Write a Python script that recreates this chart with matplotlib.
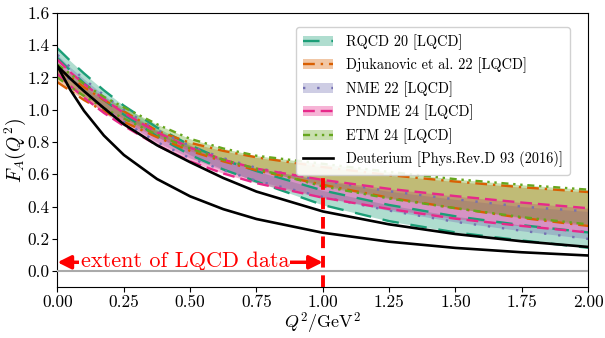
import matplotlib
matplotlib.use("Agg")
import matplotlib.pyplot as plt
from matplotlib.patches import Patch
from matplotlib.lines import Line2D

plt.rcParams['font.family'] = 'serif'
plt.rcParams['font.serif'] = ['cmr10']
plt.rcParams['mathtext.fontset'] = 'cm'
plt.rcParams['axes.formatter.use_mathtext'] = True

q2 = [0, 0.05, 0.1, 0.175, 0.25, 0.375, 0.5, 0.625, 0.75, 1.0, 1.25, 1.5, 1.75, 2.0]

rqcd_hi = [1.38, 1.30, 1.225, 1.12, 1.025, 0.89, 0.78, 0.69, 0.62, 0.50, 0.41, 0.34, 0.285, 0.24]
rqcd_lo = [1.32, 1.24, 1.165, 1.06, 0.97, 0.835, 0.72, 0.63, 0.555, 0.41, 0.31, 0.24, 0.19, 0.145]

djuk_hi = [1.26, 1.20, 1.14, 1.06, 0.99, 0.87, 0.795, 0.745, 0.705, 0.645, 0.595, 0.555, 0.52, 0.49]
djuk_lo = [1.17, 1.115, 1.06, 0.99, 0.925, 0.83, 0.745, 0.68, 0.625, 0.535, 0.455, 0.39, 0.33, 0.28]

nme_hi = [1.34, 1.26, 1.19, 1.09, 1.00, 0.875, 0.775, 0.70, 0.64, 0.56, 0.495, 0.445, 0.40, 0.37]
nme_lo = [1.26, 1.18, 1.11, 1.01, 0.925, 0.80, 0.70, 0.625, 0.56, 0.46, 0.375, 0.305, 0.25, 0.20]

pndme_hi = [1.31, 1.23, 1.16, 1.065, 0.98, 0.86, 0.765, 0.69, 0.635, 0.565, 0.51, 0.465, 0.425, 0.39]
pndme_lo = [1.22, 1.145, 1.075, 0.98, 0.90, 0.78, 0.68, 0.605, 0.545, 0.455, 0.385, 0.325, 0.28, 0.24]

etm_hi = [1.28, 1.22, 1.16, 1.08, 1.015, 0.91, 0.82, 0.76, 0.715, 0.665, 0.615, 0.57, 0.535, 0.505]
etm_lo = [1.20, 1.14, 1.085, 1.01, 0.945, 0.845, 0.76, 0.69, 0.635, 0.525, 0.45, 0.39, 0.335, 0.29]

deut_hi = [1.27, 1.19, 1.115, 1.01, 0.91, 0.78, 0.675, 0.577, 0.493, 0.37, 0.29, 0.23, 0.185, 0.15]
deut_lo = [1.27, 1.119, 0.993, 0.840, 0.720, 0.571, 0.4635, 0.384, 0.323, 0.238, 0.1825, 0.144, 0.117, 0.097]

bands = [
    ("RQCD 20 [LQCD]", rqcd_lo, rqcd_hi, "#1b9e77", (0, (7, 5))),
    ("Djukanovic et al. 22 [LQCD]", djuk_lo, djuk_hi, "#d95f02", (0, (5, 2.5, 1, 2.5))),
    ("NME 22 [LQCD]", nme_lo, nme_hi, "#7570b3", (0, (1, 5))),
    ("PNDME 24 [LQCD]", pndme_lo, pndme_hi, "#e7298a", (0, (5, 2.5))),
    ("ETM 24 [LQCD]", etm_lo, etm_hi, "#66a61e", (0, (3, 2, 1, 2, 1, 2))),
]

fig = plt.figure(figsize=(6.05, 3.38), dpi=100)
ax = fig.add_axes([0.095, 0.15, 0.877, 0.812])

handles = []
labels = []
for name, lo, hi, col, ls in bands:
    ax.fill_between(q2, lo, hi, color=col, alpha=0.35, lw=0)
    ax.plot(q2, lo, color=col, ls=ls, lw=1.7)
    ax.plot(q2, hi, color=col, ls=ls, lw=1.7)
    handles.append((Patch(facecolor=col, alpha=0.35, lw=0), Line2D([], [], color=col, ls=ls, lw=1.7)))
    labels.append(name)

ax.plot(q2, deut_hi, color="black", lw=1.9, zorder=5)
ax.plot(q2, deut_lo, color="black", lw=1.9, zorder=5)
handles.append(Line2D([], [], color="black", lw=1.9))
labels.append("Deuterium [Phys.Rev.D 93 (2016)]")

ax.axhline(0, color="#aaaaaa", lw=1.5, zorder=4)
ax.plot([1.0, 1.0], [-0.1, 0.62], color="red", lw=2.8, ls=(0, (3, 2)), zorder=6)

ax.annotate("", xy=(0.0, 0.055), xytext=(1.0, 0.055),
            arrowprops=dict(arrowstyle="<|-|>", color="red", lw=2.5, mutation_scale=20,
                            shrinkA=0, shrinkB=0))
ax.text(0.48, 0.06, "extent of LQCD data", color="red", fontsize=16,
        ha="center", va="center",
        bbox=dict(facecolor="white", edgecolor="none", pad=1.0))

ax.set_xlim(0, 2)
ax.set_ylim(-0.1, 1.6)
ax.set_xticks([0, 0.25, 0.5, 0.75, 1.0, 1.25, 1.5, 1.75, 2.0])
ax.set_xticklabels(["0.00", "0.25", "0.50", "0.75", "1.00", "1.25", "1.50", "1.75", "2.00"])
ax.set_yticks([0, 0.2, 0.4, 0.6, 0.8, 1.0, 1.2, 1.4, 1.6])
ax.set_yticklabels(["0.0", "0.2", "0.4", "0.6", "0.8", "1.0", "1.2", "1.4", "1.6"])
ax.tick_params(labelsize=12.5, pad=2)
ax.set_xlabel(r"$Q^2/\mathrm{GeV}^2$", fontsize=13, labelpad=0)
ax.set_ylabel(r"$F_A(Q^2)$", fontsize=14, labelpad=0)

ax.legend(handles, labels, loc="upper right", bbox_to_anchor=(0.98, 0.975),
          fontsize=10.3, handlelength=2.1, handletextpad=0.9, labelspacing=0.55,
          framealpha=0.9, borderpad=0.5)

fig.savefig("out.png", dpi=100)
